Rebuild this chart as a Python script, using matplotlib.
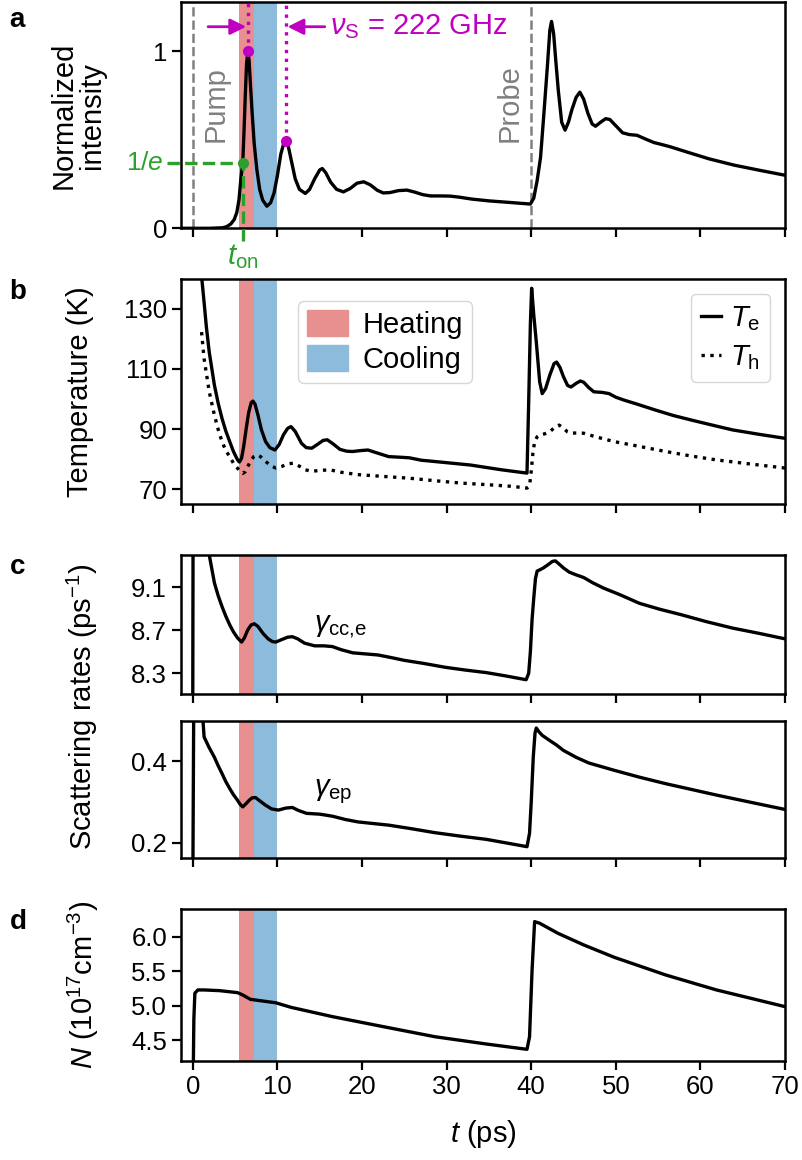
import numpy as np
import matplotlib
matplotlib.use("Agg")
import matplotlib.pyplot as plt
from matplotlib.patches import Patch
from matplotlib.lines import Line2D

plt.rcParams['font.family'] = ['Liberation Sans', 'DejaVu Sans']
plt.rcParams['mathtext.fontset'] = 'custom'
plt.rcParams['mathtext.rm'] = 'Liberation Sans'
plt.rcParams['mathtext.it'] = 'Liberation Sans:italic'
plt.rcParams['font.size'] = 21
plt.rcParams['axes.linewidth'] = 1.8

# --- data ---
# panel a: normalized intensity
t_int = [-1.4, 0, 2, 3.5, 4.0, 4.5, 4.9, 5.2, 5.45, 5.7, 5.9, 6.05, 6.2, 6.35, 6.5, 6.65, 6.8, 7.0,
         7.25, 7.57, 7.9, 8.25, 8.75, 9.2, 9.6, 10.0, 10.4, 10.75, 11.0, 11.3, 11.7, 12.1, 12.6, 13.3,
         13.8, 14.4, 15.0, 15.3, 15.7, 16.3, 17.0, 17.8, 18.6, 19.4, 20.2, 21.0, 21.8, 22.5, 23.3,
         24.3, 25.3, 26.2, 27.2, 28.1, 29.3, 30.4, 31.5, 33.0, 35.0, 37.5, 39.9, 40.3, 40.7, 41.1,
         41.5, 41.9, 42.2, 42.4, 42.65, 42.9, 43.2, 43.6, 44.0, 44.4, 44.8, 45.3, 45.75, 46.2, 46.7,
         47.2, 47.6, 48.2, 48.8, 49.3, 50.0, 50.8, 51.6, 52.5, 53.5, 54.5, 55.5, 56.5, 58.5, 61.0,
         64.0, 67.0, 70.0]
intensity = [0.0, 0.0, 0.0, 0.003, 0.009, 0.025, 0.05, 0.09, 0.16, 0.29, 0.368, 0.55, 0.75, 0.93, 1.0,
             0.95, 0.82, 0.66, 0.48, 0.33, 0.22, 0.16, 0.125, 0.145, 0.2, 0.3, 0.42, 0.48, 0.494, 0.46,
             0.37, 0.28, 0.22, 0.197, 0.22, 0.28, 0.33, 0.338, 0.315, 0.26, 0.22, 0.206, 0.225, 0.255,
             0.263, 0.245, 0.215, 0.2, 0.202, 0.213, 0.216, 0.205, 0.19, 0.183, 0.183, 0.182, 0.176,
             0.165, 0.155, 0.146, 0.137, 0.17, 0.27, 0.40, 0.65, 0.91, 1.12, 1.17, 1.1, 0.95, 0.78, 0.6,
             0.555, 0.6, 0.67, 0.74, 0.77, 0.73, 0.65, 0.59, 0.577, 0.6, 0.62, 0.615, 0.58, 0.54, 0.53,
             0.526, 0.505, 0.485, 0.473, 0.46, 0.43, 0.393, 0.357, 0.328, 0.30]

# panel b: temperatures (K)
t_te = [0.3, 1.03, 1.33, 1.6, 1.94, 2.55, 3.0, 3.45, 3.9, 4.36, 4.8, 5.27, 5.5, 5.75, 6.0, 6.3, 6.6,
        6.9, 7.1, 7.35, 7.7, 8.1, 8.6, 9.1, 9.7, 10.2, 10.7, 11.2, 11.6, 12.1, 12.85, 13.4, 14.06,
        14.8, 15.4, 15.9, 16.6, 17.4, 18.2, 18.9, 19.8, 20.7, 21.8, 23.15, 24.5, 25.6, 27.0, 29.2,
        32.8, 36.5, 39.5, 39.7, 39.9, 40.05, 40.3, 40.6, 41.0, 41.3, 41.7, 42.2, 42.7, 43.0, 43.4,
        43.8, 44.3, 44.7, 45.3, 45.8, 46.2, 46.8, 47.4, 48.4, 49.2, 50.0, 51.0, 52.5, 54.7, 56.8,
        58.9, 61.4, 63.8, 67.0, 70.0]
temp_e = [220, 141, 132.2, 124, 115.6, 104.6, 98.5, 93.5, 89.3, 85.8, 82.5, 79.8, 79.0, 80.2, 84, 90,
          95.5, 98.8, 99.3, 98.3, 94.6, 89.8, 85.8, 83.8, 83.0, 84.8, 88.0, 90.2, 90.8, 89.2, 85.2,
          83.8, 83.6, 85.0, 86.2, 86.4, 85.0, 83.2, 82.6, 82.5, 82.8, 83.0, 82.0, 80.8, 80.6, 80.4,
          79.6, 79.0, 78.0, 76.4, 75.3, 99, 125, 136.9, 128, 119, 105.7, 101.8, 103.5, 108, 111.8,
          112.3, 110.5, 107.5, 104.5, 104.0, 105.2, 106.0, 105.6, 103.8, 102.4, 102.2, 101.8, 100.6,
          99.6, 98.3, 96.3, 94.5, 93.0, 91.3, 89.7, 88.2, 86.9]
t_th = [1.03, 1.33, 1.94, 2.55, 3.0, 3.45, 3.9, 4.36, 4.8, 5.27, 5.6, 5.9, 6.2, 6.5, 6.8, 7.2, 7.6,
        8.0, 8.6, 9.2, 9.8, 10.5, 11.2, 11.9, 12.6, 13.3, 14.06, 15.0, 16.2, 17.5, 19.5, 22.5, 25.6,
        28.5, 31.6, 34.5, 37.7, 39.5, 39.8, 40.0, 40.2, 40.4, 40.7, 41.0, 41.6, 42.2, 42.8, 43.3,
        43.8, 44.3, 44.7, 45.5, 46.2, 47.5, 49.8, 52.8, 55.9, 58.9, 61.9, 66.0, 70.0]
temp_h = [122.3, 113.4, 102.4, 94.6, 89.8, 85.8, 82.8, 80.8, 78.6, 77.0, 75.7, 75.2, 75.8, 77.5, 79.2,
          80.8, 81.4, 80.8, 79.2, 77.8, 77.0, 77.5, 78.4, 78.6, 77.6, 76.4, 75.9, 76.2, 76.4, 75.6,
          74.8, 74.2, 73.6, 72.8, 72.0, 71.5, 70.9, 70.3, 71.0, 75.9, 82.0, 85.8, 87.4, 88.0, 88.4,
          89.1, 90.6, 91.3, 90.3, 89.0, 88.6, 88.7, 88.6, 87.5, 85.8, 84.2, 82.5, 81.0, 79.7, 78.3,
          77.0]

# panel c: scattering rates (1/ps)
t_cc = [-1.4, -0.02, 0.05, 1.0, 1.94, 2.55, 3.0, 3.45, 3.9, 4.36, 4.8, 5.27, 5.76, 6.1, 6.5, 6.9, 7.27,
        7.7, 8.3, 8.9, 9.4, 9.8, 10.4, 11.2, 11.76, 12.4, 13.2, 14.4, 15.5, 16.5, 17.5, 18.9, 20.4,
        21.9, 23.5, 25.0, 27.4, 29.8, 32.2, 34.7, 37.0, 39.4, 39.7, 39.9, 40.1, 40.3, 40.5, 40.7,
        41.1, 41.45, 42.0, 42.5, 42.85, 43.3, 43.8, 44.5, 45.3, 46.2, 47.3, 48.6, 50.5, 52.8, 55.2,
        57.7, 60.7, 63.8, 67.0, 70.0]
gamma_cc = [7.5, 7.5, 10.6, 9.9, 9.4, 9.14, 9.02, 8.92, 8.83, 8.75, 8.685, 8.63, 8.59, 8.63, 8.705,
            8.75, 8.76, 8.735, 8.67, 8.62, 8.595, 8.59, 8.61, 8.635, 8.64, 8.62, 8.58, 8.555, 8.555,
            8.548, 8.52, 8.49, 8.48, 8.47, 8.445, 8.42, 8.39, 8.356, 8.33, 8.306, 8.275, 8.24, 8.3,
            8.5, 8.8, 9.0, 9.18, 9.25, 9.265, 9.28, 9.31, 9.34, 9.345, 9.315, 9.28, 9.24, 9.215, 9.19,
            9.14, 9.09, 9.03, 8.95, 8.895, 8.845, 8.78, 8.72, 8.67, 8.62]
t_ep = [-1.4, 0.0, 0.12, 1.1, 1.2, 1.33, 1.9, 2.55, 3.0, 3.45, 3.9, 4.36, 4.8, 5.27, 5.6, 5.9, 6.3,
        6.67, 7.0, 7.4, 7.9, 8.6, 9.3, 10.1, 11.0, 11.76, 12.5, 13.45, 15.0, 16.5, 18.0, 19.5, 21.3,
        23.15, 25.9, 28.6, 31.6, 34.7, 37.1, 39.5, 39.8, 40.0, 40.24, 40.45, 40.6, 40.9, 41.3, 42.2,
        43.0, 43.8, 45.3, 46.8, 49.8, 52.8, 55.9, 58.9, 61.9, 66.0, 70.0]
gamma_ep = [0.1, 0.1, 0.6, 0.6, 0.5, 0.46, 0.435, 0.41, 0.389, 0.37, 0.35, 0.333, 0.318, 0.3045,
            0.294, 0.288, 0.296, 0.3045, 0.31, 0.311, 0.303, 0.292, 0.283, 0.28, 0.285, 0.2865, 0.279,
            0.272, 0.27, 0.265, 0.257, 0.251, 0.247, 0.243, 0.234, 0.2245, 0.216, 0.208, 0.199, 0.19,
            0.223, 0.3, 0.41, 0.47, 0.482, 0.473, 0.464, 0.451, 0.44, 0.427, 0.41, 0.396, 0.378,
            0.361, 0.345, 0.331, 0.317, 0.299, 0.2816]

# panel d: carrier density (1e17 cm^-3)
t_n = [-1.4, 0.0, 0.12, 0.24, 0.6, 1.33, 3.15, 5.27, 5.9, 6.8, 8.0, 9.8, 11.6, 16.5, 22.5, 28.6, 34.7,
       39.5, 39.8, 40.1, 40.4, 41.0, 43.15, 46.2, 49.8, 55.9, 61.9, 70.0]
density = [3.5, 3.5, 4.8, 5.18, 5.226, 5.226, 5.216, 5.187, 5.153, 5.09, 5.07, 5.04, 4.974, 4.839,
           4.694, 4.548, 4.442, 4.365, 4.548, 5.516, 6.217, 6.193, 6.048, 5.879, 5.70, 5.443, 5.226,
           4.984]

heat_span = (5.4, 7.2)
cool_span = (7.2, 9.9)
t_on = 5.9
peak_times = [6.5, 11.0]
peak_vals = [1.0, 0.494]
pump_t, probe_t = 0, 40

c_heat = '#e8908f'
c_cool = '#8dbbdb'
c_mag = '#c000c0'
c_green = '#2ca02c'
lw = 2.4
fs = 21
fs_tick = 18.5

fig = plt.figure(figsize=(8.03, 11.6), dpi=100)
L, R = 0.2254, 0.9776
ax_a = fig.add_axes([L, 0.8032, R - L, 0.9983 - 0.8032])
ax_b = fig.add_axes([L, 0.5655, R - L, 0.7595 - 0.5655])
ax_c1 = fig.add_axes([L, 0.4017, R - L, 0.5216 - 0.4017])
ax_c2 = fig.add_axes([L, 0.2603, R - L, 0.3787 - 0.2603])
ax_d = fig.add_axes([L, 0.0853, R - L, 0.2164 - 0.0853])
axes = [ax_a, ax_b, ax_c1, ax_c2, ax_d]

for ax in axes:
    ax.set_xlim(-1.4, 70)
    ax.set_xticks(np.arange(0, 71, 10))
    ax.tick_params(direction='out', length=6.5, width=1.6, labelsize=fs_tick)
    ax.axvspan(*heat_span, color=c_heat, lw=0, zorder=0)
    ax.axvspan(*cool_span, color=c_cool, lw=0, zorder=0)
    if ax is not ax_d:
        ax.tick_params(labelbottom=False)

# panel a
ax_a.plot(t_int, intensity, color='k', lw=lw, zorder=3)
ax_a.set_ylim(0, 1.28)
ax_a.set_yticks([0, 1])
ax_a.set_yticklabels(['0', '1'])
for tt in (pump_t, probe_t):
    ax_a.axvline(tt, color='gray', ls='--', lw=1.8, zorder=1)
ax_a.text(2.7, 0.70, 'Pump', rotation=90, color='gray', ha='center', va='center', fontsize=fs)
ax_a.text(37.5, 0.71, 'Probe', rotation=90, color='gray', ha='center', va='center', fontsize=fs)
for tp, vp in zip(peak_times, peak_vals):
    ax_a.plot([tp, tp], [vp, 1.28], color=c_mag, ls=':', lw=2.4, zorder=4)
    ax_a.plot(tp, vp, 'o', color=c_mag, ms=7, zorder=5)
ax_a.annotate('', xy=(peak_times[0] - 0.2, 1.14), xytext=(1.8, 1.14),
              arrowprops=dict(arrowstyle='-|>', color=c_mag, lw=2, mutation_scale=24, shrinkA=0, shrinkB=0))
ax_a.annotate('', xy=(peak_times[1] + 0.2, 1.14), xytext=(15.6, 1.14),
              arrowprops=dict(arrowstyle='-|>', color=c_mag, lw=2, mutation_scale=24, shrinkA=0, shrinkB=0))
ax_a.text(16.2, 1.14, r'$\nu_\mathrm{S}$ = 222 GHz', color=c_mag, ha='left', va='center', fontsize=fs)
ax_a.plot([-3.0, t_on], [1 / np.e, 1 / np.e], color=c_green, ls='--', lw=2.4, clip_on=False, zorder=4)
ax_a.plot([t_on, t_on], [-0.07, 1 / np.e], color=c_green, ls='--', lw=2.4, clip_on=False, zorder=4)
ax_a.plot(t_on, 1 / np.e, 'o', color=c_green, ms=7, zorder=5)
ax_a.text(-3.4, 1 / np.e, r'1/$e$', color=c_green, ha='right', va='center', fontsize=fs_tick + 0.5)
ax_a.text(t_on, -0.08, r'$t_\mathrm{on}$', color=c_green, ha='center', va='top', fontsize=fs)

# panel b
ax_b.plot(t_te, temp_e, color='k', lw=lw, zorder=3)
ax_b.plot(t_th, temp_h, color='k', lw=lw, ls=':', zorder=3)
ax_b.set_ylim(65, 140)
ax_b.set_yticks([70, 90, 110, 130])
leg1 = ax_b.legend(handles=[Patch(color=c_heat, label='Heating'), Patch(color=c_cool, label='Cooling')],
                   loc='upper left', bbox_to_anchor=(0.17, 0.965), fontsize=fs,
                   handlelength=1.4, handleheight=1.0, handletextpad=0.5, borderpad=0.3,
                   labelspacing=0.2)
ax_b.add_artist(leg1)
ax_b.legend(handles=[Line2D([], [], color='k', lw=lw, label=r'$T_\mathrm{e}$'),
                     Line2D([], [], color='k', lw=lw, ls=':', label=r'$T_\mathrm{h}$')],
            loc='upper right', fontsize=fs, handlelength=0.7, handletextpad=0.3,
            borderpad=0.35, borderaxespad=0.5, labelspacing=0.35)

# panel c
ax_c1.plot(t_cc, gamma_cc, color='k', lw=lw, zorder=3)
ax_c1.set_ylim(8.107, 9.4)
ax_c1.set_yticks([8.3, 8.7, 9.1])
ax_c1.text(14.3, 8.73, r'$\gamma_\mathrm{cc{,}e}$', fontsize=fs, ha='left', va='center')
ax_c2.plot(t_ep, gamma_ep, color='k', lw=lw, zorder=3)
ax_c2.set_ylim(0.162, 0.5)
ax_c2.set_yticks([0.2, 0.4])
ax_c2.text(14.3, 0.325, r'$\gamma_\mathrm{ep}$', fontsize=fs, ha='left', va='center')

# panel d
ax_d.plot(t_n, density, color='k', lw=lw, zorder=3)
ax_d.set_ylim(4.195, 6.40)
ax_d.set_yticks([4.5, 5.0, 5.5, 6.0])
ax_d.set_xlabel(r'$t$ (ps)', fontsize=fs, labelpad=14)

# y labels and panel letters
fig.text(0.097, (0.8032 + 0.9983) / 2, 'Normalized\nintensity', rotation=90, ha='center', va='center',
         fontsize=fs, linespacing=1.0)
fig.text(0.100, (0.5655 + 0.7595) / 2, 'Temperature (K)', rotation=90, ha='center', va='center', fontsize=fs)
fig.text(0.103, (0.2603 + 0.5216) / 2, r'Scattering rates (ps$^{-1}$)', rotation=90, ha='center',
         va='center', fontsize=fs)
fig.text(0.104, (0.0853 + 0.2164) / 2, r'$N$ (10$^{17}$cm$^{-3}$)', rotation=90, ha='center',
         va='center', fontsize=fs)
for lab, yy in zip('abcd', [0.983, 0.748, 0.511, 0.205]):
    fig.text(0.012, yy, lab, fontsize=fs - 1, fontweight='bold', ha='left', va='center')

fig.savefig('out.png', dpi=100)
